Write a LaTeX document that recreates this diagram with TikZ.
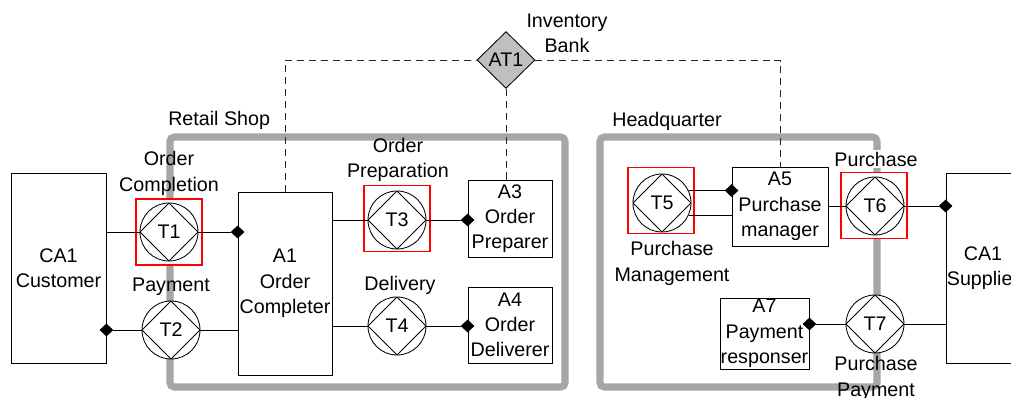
\documentclass[tikz,border=0pt]{standalone}
\usepackage{fontspec}
\setmainfont{Liberation Sans}
\usetikzlibrary{arrows.meta,shapes.geometric}
\tikzset{
  actor/.style={draw, fill=white, line width=0.6pt, align=center, inner sep=0pt},
  trans/.style={circle, draw, fill=white, line width=0.6pt, minimum size=1.45cm, inner sep=0pt,
    path picture={\draw[line width=0.6pt] (path picture bounding box.north) -- (path picture bounding box.east)
      -- (path picture bounding box.south) -- (path picture bounding box.west) -- cycle;}},
  redbox/.style={draw=red, line width=1.2pt, fill=white, minimum size=1.65cm, inner sep=0pt},
  frame/.style={draw=black!35, line width=5pt, rounded corners=3pt},
  bank/.style={diamond, draw, fill=black!25, line width=0.6pt, minimum width=1.45cm, minimum height=1.42cm, inner sep=0pt},
  lbl/.style={align=center, inner sep=1pt},
  link/.style={line width=0.6pt},
  owner/.style={link, -{Diamond[length=0.34cm, width=0.32cm]}, shorten >=-0.17cm},
  bankline/.style={line width=0.6pt, black!85, dash pattern=on 5pt off 3.5pt}
}

\begin{document}
\begin{tikzpicture}[x=0.025cm, y=-0.025cm, font=\fontsize{14}{18}\selectfont]
  \useasboundingbox (0,0) rectangle (1011,398);
  \clip (0,0) rectangle (1011,398);
  %%%%% FRAMES %%%%%
  \draw[frame] (170,137) rectangle (565,387);
  \draw[frame] (600,137) rectangle (877,387);
  \node[anchor=west, inner sep=0pt] (shop) at (168,120) {Retail Shop};
  \node[anchor=west, inner sep=0pt] (hq) at (612,121) {Headquarter};

  %%%%% ACTORS %%%%%
  \node[actor, minimum width=2.375cm, minimum height=4.75cm] (CA1c) at (58.5,268) {CA1\\Customer};
  \node[actor, minimum width=2.35cm, minimum height=4.575cm] (A1) at (285,283.5) {A1\\Order\\Completer};
  \node[actor, minimum width=2.1cm, minimum height=1.925cm] (A3) at (510,218.5) {A3\\Order\\Preparer};
  \node[actor, minimum width=2.1cm, minimum height=1.9cm] (A4) at (510,325) {A4\\Order\\Deliverer};
  \node[actor, minimum width=2.4cm, minimum height=1.975cm] (A5) at (780,206.5) {A5\\Purchase\\manager};
  \node[actor, minimum width=2.225cm, minimum height=1.775cm] (A7) at (764.5,333.5) {A7\\Payment\\responser};
  \node[actor, minimum width=1.85cm, minimum height=4.75cm] (CA1s) at (983,268) {CA1\\Supplier};

  %%%%% TRANSACTIONS %%%%%
  \node[redbox] (R1) at (169,232) {};
  \node[redbox] (R3) at (397,218.5) {};
  \node[redbox] (R5) at (661,200.5) {};
  \node[redbox] (R6) at (874,205.5) {};
  \node[trans] (T1) at (169,232) {T1};
  \node[trans] (T2) at (171,330) {T2};
  \node[trans] (T3) at (397,220) {T3};
  \node[trans] (T4) at (397,326) {T4};
  \node[trans] (T5) at (662,203) {T5};
  \node[trans] (T6) at (875,206) {T6};
  \node[trans] (T7) at (875,324) {T7};

  \node[lbl] (T1lab) at (169,173.5) {Order\\Completion};
  \node[lbl] (T2lab) at (171,287) {Payment};
  \node[lbl] (T3lab) at (398,160) {Order\\Preparation};
  \node[lbl] (T4lab) at (400,285) {Delivery};
  \node[lbl] (T5lab) at (672,263.5) {Purchase\\Management};
  \node[lbl, fill=white] (T6lab) at (876,159) {Purchase};
  \node[lbl] (T7lab) at (876,378.5) {Purchase\\Payment};

  %%%%% BANK %%%%%
  \node[bank] (AT1) at (506,60) {AT1};
  \node[lbl] (AT1lab) at (567,33) {Inventory\\Bank};
  \draw[bankline] (A1.north) |- (AT1.west);
  \draw[bankline] (AT1.east) -| (A5.north);
  \draw[bankline] (AT1.south) -- (AT1.south |- A3.north);

  %%%%% LINKS %%%%%
  \draw[link] (T1.west -| CA1c.east) -- (T1.west);
  \draw[owner] (T1.east) -- (T1.east -| A1.west);
  \draw[owner] (T2.west) -- (T2.west -| CA1c.east);
  \draw[link] (T2.east) -- (T2.east -| A1.west);
  \draw[link] (T3.west -| A1.east) -- (T3.west);
  \draw[owner] (T3.east) -- (T3.east -| A3.west);
  \draw[link] (T4.west -| A1.east) -- (T4.west);
  \draw[owner] (T4.east) -- (T4.east -| A4.west);
  \draw[owner] (T5.25) -- (T5.25 -| A5.west);
  \draw[link] (T5.-25) -- (T5.-25 -| A5.west);
  \draw[link] (T6.west -| A5.east) -- (T6.west);
  \draw[owner] (T6.east) -- (T6.east -| CA1s.west);
  \draw[owner] (T7.west) -- (T7.west -| A7.east);
  \draw[link] (T7.east) -- (T7.east -| CA1s.west);
\end{tikzpicture}
\end{document}
